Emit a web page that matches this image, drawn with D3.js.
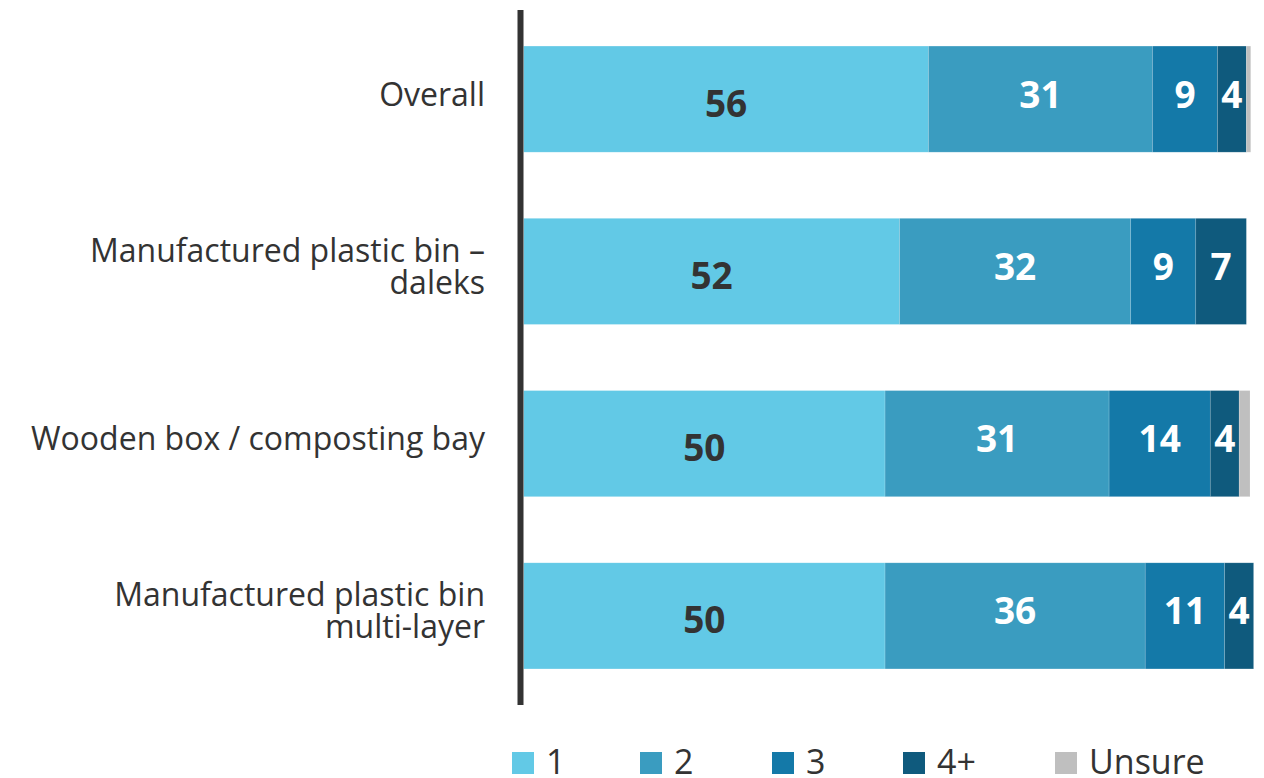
<!DOCTYPE html>
<html>
<head>
<meta charset="utf-8">
<script src="https://cdn.jsdelivr.net/npm/d3@7"></script>
<style>
  html, body { margin: 0; padding: 0; background: #ffffff; }
  svg { display: block; }
</style>
</head>
<body>
<svg id="chart" width="1264" height="778"></svg>
<script>
// Categories (each label may span two lines)
const categories = [
  ["Overall"],
  ["Manufactured plastic bin \u2013", "daleks"],
  ["Wooden box / composting bay"],
  ["Manufactured plastic bin", "multi-layer"]
];
const seriesNames = ["1", "2", "3", "4+", "Unsure"];
const seriesColors = ["#62c9e6", "#3a9cc0", "#1479a8", "#0f5a7d", "#bfbfbf"];

// Percentages per category, one array per series
const s1 = [56, 52, 50, 50];
const s2 = [31, 32, 31, 36];
const s3 = [9, 9, 14, 11];
const s4 = [4, 7, 4, 4];
const sUnsure = [0.6, 0, 1.5, 0];

const seriesValues = [s1, s2, s3, s4, sUnsure];
const catKeys = categories.map(c => c.join(" "));

const rows = catKeys.map((k, i) => {
  const r = { key: k };
  seriesNames.forEach((s, j) => r[s] = seriesValues[j][i]);
  return r;
});

const svg = d3.select("#chart");
const font = "'Open Sans', 'Noto Sans', sans-serif";

const x = d3.scaleLinear().domain([0, 100.5]).range([523.7, 1250]);
const y = d3.scaleBand().domain(catKeys).range([13, 702])
  .paddingInner(0.384).paddingOuter(0.192);

const stacked = d3.stack().keys(seriesNames)(rows);

// Bars
const layers = svg.append("g").selectAll("g")
  .data(stacked).join("g")
  .attr("fill", (d, i) => seriesColors[i]);

layers.selectAll("rect")
  .data(d => d.map(v => ({ v, key: v.data.key })))
  .join("rect")
  .attr("x", d => x(d.v[0]))
  .attr("y", d => y(d.key))
  .attr("width", d => Math.max(0, x(d.v[1]) - x(d.v[0])))
  .attr("height", y.bandwidth())
  .attr("stroke", "rgba(255,255,255,0.25)")
  .attr("stroke-width", 0.6);

// Value labels (Unsure is not labelled)
stacked.forEach((layer, si) => {
  if (seriesNames[si] === "Unsure") return;
  svg.append("g").selectAll("text")
    .data(layer)
    .join("text")
    .attr("x", d => (x(d[0]) + x(d[1])) / 2)
    .attr("y", d => y(d.data.key) + y.bandwidth() / 2 + (si === 0 ? 3 : -6))
    .attr("text-anchor", "middle")
    .attr("dominant-baseline", "central")
    .attr("font-family", font)
    .attr("font-weight", 700)
    .attr("font-size", 37)
    .attr("fill", si === 0 ? "#333333" : "#ffffff")
    .text(d => d[1] - d[0]);
});

// Category labels
const catG = svg.append("g");
categories.forEach((lines, i) => {
  const cy = y(catKeys[i]) + y.bandwidth() / 2 - 6;
  const lh = 32;
  const t = catG.append("text")
    .attr("text-anchor", "end")
    .attr("font-family", font)
    .attr("font-size", 32)
    .attr("fill", "#333333");
  lines.forEach((ln, j) => {
    t.append("tspan")
      .attr("x", 485)
      .attr("y", cy + (j - (lines.length - 1) / 2) * lh)
      .attr("dominant-baseline", "central")
      .text(ln);
  });
});

// Category axis line
svg.append("line")
  .attr("x1", 520.5).attr("x2", 520.5)
  .attr("y1", 10).attr("y2", 705)
  .attr("stroke", "#333333")
  .attr("stroke-width", 6);

// Legend
const legendX = [512, 640, 772, 903, 1055];
const legend = svg.append("g").selectAll("g")
  .data(seriesNames).join("g")
  .attr("transform", (d, i) => `translate(${legendX[i]},752)`);
legend.append("rect")
  .attr("width", 22).attr("height", 22)
  .attr("fill", (d, i) => seriesColors[i]);
legend.append("text")
  .attr("x", 34).attr("y", 9)
  .attr("dominant-baseline", "central")
  .attr("font-family", font)
  .attr("font-size", 34)
  .attr("fill", "#333333")
  .text(d => d);
</script>
</body>
</html>
